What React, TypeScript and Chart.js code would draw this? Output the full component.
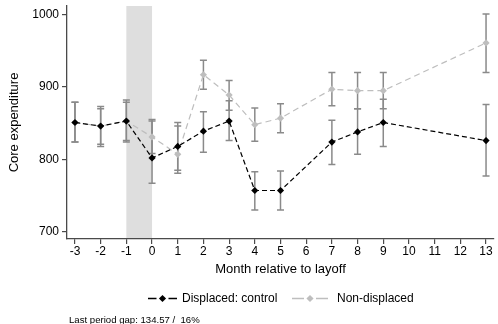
import React, { useEffect, useRef } from 'react';
import { Chart, registerables } from 'chart.js';

Chart.register(...registerables);

const FONT = '"Liberation Sans", Arial, Helvetica, sans-serif';

// ---- data ----
const months = [-3, -2, -1, 0, 1, 2, 3, 4, 5, 7, 8, 9, 13];
const displaced = [851, 846, 853, 802, 818, 839, 853, 757, 757, 824, 838, 851, 826];
const displacedLo = [824, 818, 824, 767, 785, 810, 826, 730, 730, 793, 807, 818, 777];
const displacedHi = [879, 873, 882, 855, 851, 866, 881, 783, 784, 854, 870, 883, 876];
const nonDisplaced = [851, 846, 853, 831, 807, 917, 889, 848, 857, 897, 895, 895, 961];
const nonDisplacedLo = [824, 821, 826, 808, 781, 897, 868, 825, 837, 874, 870, 870, 920];
const nonDisplacedHi = [879, 870, 879, 853, 846, 937, 909, 871, 877, 920, 920, 920, 1001];
const xTicks = [-3, -2, -1, 0, 1, 2, 3, 4, 5, 6, 7, 8, 9, 10, 11, 12, 13];
const yTicks = [700, 800, 900, 1000];
const shadeFrom = -1;
const shadeTo = 0;
const seriesLabels = ['Displaced: control', 'Non-displaced'];
const xTitle = 'Month relative to layoff';
const yTitle = 'Core expenditure';
const footnote = 'Last period gap: 134.57 /  16%';

const BLACK = '#000000';
const GRAY = '#bebebe';
const BAR = '#8a8a8a';
const AXIS = '#4a4a4a';

const shadePlugin = {
  id: 'shade',
  beforeDraw(chart: any) {
    const { ctx, chartArea, scales } = chart;
    const x = scales.x;
    const x0 = x.getPixelForValue(shadeFrom);
    const x1 = x.getPixelForValue(shadeTo);
    ctx.save();
    ctx.fillStyle = '#dedede';
    ctx.fillRect(x0, chartArea.top, x1 - x0, chartArea.bottom - chartArea.top);
    ctx.restore();
  },
};

const errorBarPlugin = {
  id: 'errorBars',
  beforeDatasetsDraw(chart: any) {
    const { ctx, scales } = chart;
    const x = scales.x;
    const y = scales.y;
    ctx.save();
    ctx.strokeStyle = BAR;
    ctx.lineWidth = 1.5;
    const sets = [
      [nonDisplacedLo, nonDisplacedHi],
      [displacedLo, displacedHi],
    ];
    sets.forEach(([lo, hi]) => {
      months.forEach((m, i) => {
        const px = x.getPixelForValue(m);
        const pl = y.getPixelForValue(lo[i]);
        const ph = y.getPixelForValue(hi[i]);
        ctx.beginPath();
        ctx.moveTo(px, pl);
        ctx.lineTo(px, ph);
        ctx.moveTo(px - 3.5, pl);
        ctx.lineTo(px + 3.5, pl);
        ctx.moveTo(px - 3.5, ph);
        ctx.lineTo(px + 3.5, ph);
        ctx.stroke();
      });
    });
    ctx.restore();
  },
};

function drawKey(ctx: CanvasRenderingContext2D, x0: number, x1: number, cy: number, color: string) {
  const cx = (x0 + x1) / 2;
  ctx.save();
  ctx.strokeStyle = color;
  ctx.fillStyle = color;
  ctx.lineWidth = 1.3;
  ctx.beginPath();
  ctx.moveTo(x0, cy);
  ctx.lineTo(cx - 6, cy);
  ctx.moveTo(cx + 6, cy);
  ctx.lineTo(x1, cy);
  ctx.stroke();
  const r = 3.6;
  ctx.beginPath();
  ctx.moveTo(cx, cy - r);
  ctx.lineTo(cx + r, cy);
  ctx.lineTo(cx, cy + r);
  ctx.lineTo(cx - r, cy);
  ctx.closePath();
  ctx.fill();
  ctx.restore();
}

const legendPlugin = {
  id: 'customLegend',
  afterDraw(chart: any) {
    const { ctx } = chart;
    const cy = 298.5;
    drawKey(ctx, 148, 177, cy, BLACK);
    drawKey(ctx, 292, 328, cy, GRAY);
    ctx.save();
    ctx.fillStyle = '#000';
    ctx.font = `12px ${FONT}`;
    ctx.textBaseline = 'middle';
    ctx.textAlign = 'left';
    ctx.fillText(seriesLabels[0], 182, cy);
    ctx.fillText(seriesLabels[1], 337, cy);
    ctx.font = `9.6px ${FONT}`;
    ctx.textBaseline = 'alphabetic';
    ctx.fillText(footnote, 69, 323);
    ctx.restore();
  },
};

export default function App() {
  const ref = useRef<HTMLCanvasElement | null>(null);

  useEffect(() => {
    if (!ref.current) return;
    const chart = new Chart(ref.current, {
      type: 'line',
      data: {
        datasets: [
          {
            label: seriesLabels[0],
            data: months.map((m, i) => ({ x: m, y: displaced[i] })),
            borderColor: BLACK,
            backgroundColor: BLACK,
            borderWidth: 1.2,
            borderDash: [5, 3],
            pointStyle: 'rectRot',
            pointRadius: 3.6,
            pointBorderWidth: 0,
            pointBackgroundColor: BLACK,
            tension: 0,
          },
          {
            label: seriesLabels[1],
            data: months.map((m, i) => ({ x: m, y: nonDisplaced[i] })),
            borderColor: GRAY,
            backgroundColor: GRAY,
            borderWidth: 1.2,
            borderDash: [6, 4],
            pointStyle: 'rectRot',
            pointRadius: 3.6,
            pointBorderWidth: 0,
            pointBackgroundColor: GRAY,
            tension: 0,
          },
        ],
      },
      options: {
        responsive: false,
        animation: false,
        events: [],
        layout: { padding: { top: 6, left: 0, right: 0, bottom: 47 } },
        plugins: {
          legend: { display: false },
          tooltip: { enabled: false },
        },
        scales: {
          x: {
            type: 'linear',
            min: -3.31,
            max: 13.31,
            afterBuildTicks: (s: any) => {
              s.ticks = xTicks.map((v) => ({ value: v }));
            },
            afterFit: (s: any) => {
              s.height = 38;
              s.paddingLeft = 0;
              s.paddingRight = 0;
            },
            grid: { drawOnChartArea: false, drawTicks: true, tickLength: 5, color: AXIS, lineWidth: 1.2 },
            border: { display: true, color: AXIS, width: 1.3 },
            ticks: {
              padding: 0,
              autoSkip: false,
              maxRotation: 0,
              color: '#000',
              font: { family: FONT, size: 12 },
              callback: (v: any) => String(v),
            },
            title: {
              display: true,
              text: xTitle,
              color: '#000',
              font: { family: FONT, size: 13 },
              padding: { top: 0, bottom: 0 },
            },
          },
          y: {
            type: 'linear',
            min: 690,
            max: 1012,
            afterBuildTicks: (s: any) => {
              s.ticks = yTicks.map((v) => ({ value: v }));
            },
            afterFit: (s: any) => {
              s.width = 67;
              s.paddingTop = 0;
              s.paddingBottom = 0;
            },
            grid: { drawOnChartArea: false, drawTicks: true, tickLength: 5, color: AXIS, lineWidth: 1.2 },
            border: { display: true, color: AXIS, width: 1.3 },
            ticks: {
              padding: 3,
              color: '#000',
              font: { family: FONT, size: 12 },
              callback: (v: any) => String(v),
            },
            title: {
              display: true,
              text: yTitle,
              color: '#000',
              font: { family: FONT, size: 13 },
              padding: { top: 7, bottom: 0 },
            },
          },
        },
      },
      plugins: [shadePlugin, errorBarPlugin, legendPlugin],
    } as any);
    return () => chart.destroy();
  }, []);

  return (
    <div style={{ position: 'absolute', left: 0, top: 0, width: 498, height: 324, background: '#fff' }}>
      <canvas ref={ref} width={498} height={324} style={{ display: 'block' }} />
    </div>
  );
}
